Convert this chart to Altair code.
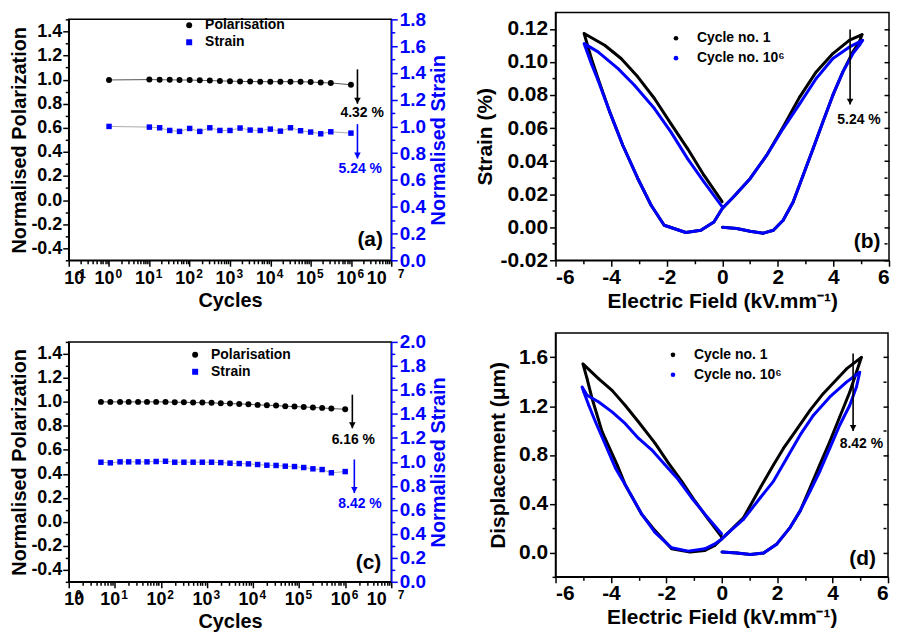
import altair as alt
import pandas as pd

FONT = "Liberation Sans"
BLUE = "#0000ff"
ARROW = "M-1.1,-2L1.1,-2L0,0Z"

# ---------------- data: panel (a) ----------------
a_cycles = [1, 10, 18, 32, 56, 100, 178, 316, 562, 1000, 1778, 3162, 5623, 10000,
            17783, 31623, 56234, 100000, 177828, 316228, 1000000]
a_polar = [0.997, 1.000, 0.999, 0.998, 0.997, 0.996, 0.994, 0.992, 0.989, 0.987, 0.985,
           0.984, 0.983, 0.983, 0.983, 0.983, 0.982, 0.980, 0.975, 0.972, 0.957]
a_strain = [1.000, 0.995, 0.990, 0.970, 0.963, 0.985, 0.963, 0.990, 0.970, 0.970, 0.988,
            0.973, 0.970, 0.980, 0.965, 0.990, 0.968, 0.958, 0.945, 0.960, 0.950]

# ---------------- data: panel (c) ----------------
c_cycles = [5, 8, 13, 20, 32, 50, 79, 126, 200, 316, 501, 794, 1259, 1995, 3162, 5012,
            7943, 12589, 19953, 31623, 50119, 79433, 125893, 199526, 316228, 501187, 1000000]
c_polar = [1.000, 1.000, 1.000, 1.000, 1.000, 1.000, 1.000, 1.000, 0.997, 0.997, 0.994,
           0.994, 0.992, 0.989, 0.986, 0.983, 0.981, 0.975, 0.972, 0.969, 0.964, 0.961,
           0.958, 0.953, 0.950, 0.944, 0.939]
c_strain = [0.997, 0.992, 1.000, 1.000, 1.000, 1.000, 1.003, 1.005, 0.997, 0.997, 0.997,
            0.997, 0.997, 0.994, 0.989, 0.986, 0.983, 0.978, 0.972, 0.970, 0.964, 0.961,
            0.953, 0.942, 0.936, 0.909, 0.919]

# ---------------- data: panel (b) strain loops ----------------
b_field_1 = [0.00, 0.52, 1.00, 1.48, 1.84, 2.19, 2.55, 2.91, 3.27, 3.62, 3.98, 4.34, 4.70, 4.93, 5.03,
             4.58, 3.98, 3.38, 2.79, 2.19, 1.60, 1.00, 0.41, 0.00,
             -0.30, -0.77, -1.31, -2.09, -2.56, -3.04, -3.58, -4.05, -4.47, -4.71, -4.97,
             -4.23, -3.64, -3.04, -2.44, -1.85, -1.25, -0.66, 0.00]
b_strain_1 = [0.0000, -0.0008, -0.0024, -0.0036, -0.0018, 0.0042, 0.0153, 0.0315, 0.0476, 0.0637, 0.0799, 0.0940, 0.1061, 0.1121, 0.1166,
              0.1132, 0.1051, 0.0940, 0.0789, 0.0607, 0.0436, 0.0294, 0.0184, 0.0113,
              0.0032, -0.0018, -0.0032, 0.0012, 0.0133, 0.0295, 0.0496, 0.0698, 0.0900, 0.1021, 0.1172,
              0.1101, 0.1021, 0.0910, 0.0779, 0.0627, 0.0476, 0.0315, 0.0153]
b_field_2 = [0.00, 0.52, 1.00, 1.48, 1.84, 2.19, 2.55, 2.91, 3.27, 3.62, 3.98, 4.34, 4.70, 4.93, 5.05,
             4.58, 3.98, 3.38, 2.79, 2.19, 1.60, 1.00, 0.41, 0.00,
             -0.30, -0.77, -1.31, -2.09, -2.56, -3.04, -3.58, -4.05, -4.47, -4.71, -4.97,
             -4.47, -3.75, -3.16, -2.44, -1.85, -1.25, -0.66, 0.00]
b_strain_2 = [0.0000, -0.0008, -0.0024, -0.0036, -0.0018, 0.0042, 0.0153, 0.0315, 0.0476, 0.0637, 0.0799, 0.0940, 0.1050, 0.1100, 0.1131,
              0.1091, 0.1021, 0.0900, 0.0748, 0.0597, 0.0436, 0.0294, 0.0184, 0.0113,
              0.0032, -0.0018, -0.0032, 0.0012, 0.0133, 0.0295, 0.0496, 0.0698, 0.0890, 0.0990, 0.1111,
              0.1061, 0.0960, 0.0859, 0.0718, 0.0577, 0.0415, 0.0274, 0.0123]

# ---------------- data: panel (d) displacement loops ----------------
d_field_1 = [0.00, 0.55, 1.03, 1.51, 1.99, 2.47, 2.83, 3.19, 3.54, 3.90, 4.26, 4.62, 4.86, 5.04,
             4.50, 3.66, 3.19, 2.65, 2.23, 1.87, 1.39, 0.79, 0.19, 0.00,
             -0.25, -0.61, -1.15, -1.81, -2.41, -2.89, -3.49, -3.78, -4.32, -4.68, -4.86, -5.01,
             -4.44, -3.96, -3.49, -3.01, -2.41, -1.93, -1.45, -0.97, -0.49, 0.00]
d_disp_1 = [0.003, -0.005, -0.016, -0.005, 0.070, 0.206, 0.341, 0.531, 0.720, 0.910, 1.113, 1.316, 1.478, 1.600,
            1.505, 1.302, 1.167, 0.991, 0.855, 0.720, 0.531, 0.287, 0.152, 0.111,
            0.057, 0.016, 0.003, 0.030, 0.179, 0.314, 0.558, 0.720, 0.991, 1.262, 1.424, 1.546,
            1.424, 1.329, 1.207, 1.072, 0.896, 0.734, 0.585, 0.422, 0.273, 0.125]
d_field_2 = [0.00, 0.55, 1.03, 1.51, 1.99, 2.47, 2.83, 3.19, 3.54, 3.90, 4.26, 4.62, 4.86, 4.98,
             4.50, 3.90, 3.31, 2.83, 2.35, 1.87, 1.39, 0.79, 0.19, 0.00,
             -0.25, -0.61, -1.21, -1.81, -2.41, -2.89, -3.49, -3.84, -4.20, -4.56, -4.80, -4.98, -5.04,
             -4.86, -4.44, -3.96, -3.49, -3.01, -2.53, -2.05, -1.57, -1.09, -0.61, 0.00]
d_disp_2 = [0.003, -0.005, -0.016, -0.005, 0.070, 0.206, 0.341, 0.504, 0.666, 0.855, 1.045, 1.207, 1.356, 1.478,
            1.397, 1.275, 1.126, 0.964, 0.774, 0.585, 0.449, 0.273, 0.152, 0.111,
            0.070, 0.030, 0.011, 0.038, 0.165, 0.314, 0.558, 0.693, 0.883, 1.072, 1.207, 1.316, 1.356,
            1.289, 1.234, 1.153, 1.058, 0.937, 0.842, 0.720, 0.598, 0.449, 0.314, 0.152]

series_ab = ["Polarisation", "Strain"]
cycle_names = ["Cycle no. 1", "Cycle no. 10\u2076"]

# annotations: (x, y_start, y_end, colour) and (x, y, text, colour, size)
a_arrows = [(1.45e6, 1.085, 0.80, "black"), (1.45e6, 0.63, 0.345, BLUE)]
a_texts = [(1.9e6, 0.72, "4.32 %", "black", 14), (1.7e6, 0.255, "5.24 %", BLUE, 14),
           (3.0e6, -0.335, "(a)", "black", 21)]
c_arrows = [(1.43e6, 1.06, 0.78, "black"), (1.58e6, 0.52, 0.24, BLUE)]
c_texts = [(1.5e6, 0.68, "6.16 %", "black", 14), (2.1e6, 0.147, "8.42 %", BLUE, 14),
           (3.2e6, -0.342, "(c)", "black", 21)]
b_arrows = [(4.6, 0.1196, 0.0742, "black")]
b_texts = [(4.92, 0.065, "5.24 %", "black", 14), (5.21, -0.009, "(b)", "black", 21)]
d_arrows = [(4.74, 1.632, 0.996, "black")]
d_texts = [(5.04, 0.888, "8.42 %", "black", 14), (5.08, -0.054, "(d)", "black", 21)]

LG = "log(datum.value)/LN10"
DECADE_TEST = f"abs({LG} - round({LG})) < 0.01"


def log_axis(decades, lab_size, title_size):
    lo, hi = decades
    vals = []
    for k in range(lo, hi + 1):
        vals.append(10.0 ** k)
        if k < hi:
            vals += [m * 10.0 ** k for m in range(2, 10)]
    return alt.Axis(
        title="Cycles", values=vals, grid=False, labelOverlap=False, labelBound=False,
        labelExpr=f"({DECADE_TEST}) ? '10' : ''", labelOffset=-5,
        tickSize={"condition": {"test": DECADE_TEST, "value": 6}, "value": 3.5},
        labelFontSize=lab_size, titleFontSize=title_size, labelPadding=3, titlePadding=3,
    )


def exponent_axis(decades):
    lo, hi = decades
    return alt.Axis(
        orient="bottom", title=None, values=[10.0 ** k for k in range(lo, hi + 1)],
        grid=False, domain=False, ticks=False, tickSize=0, labelOverlap=False, labelBound=False,
        labelExpr=f"replace(format(round({LG}), 'd'), '\u2212', '-')",
        labelFontSize=12, labelOffset=6, labelAlign="left", labelPadding=8,
    )


def lin_axis(title, vals, test, fmt, lab_size, title_size, color="black", orient=None,
             title_pad=4, label_pad=2, title_angle=None, title_baseline=None):
    kw = dict(
        title=title, values=vals, grid=False, labelOverlap=False, labelBound=False,
        labelExpr=f"({test}) ? replace(format(datum.value, '{fmt}'), '\u2212', '-') : ''",
        tickSize={"condition": {"test": test, "value": 6}, "value": 3.5},
        labelFontSize=lab_size, titleFontSize=title_size, labelPadding=label_pad,
        titlePadding=title_pad,
        labelColor=color, titleColor=color, tickColor=color, domainColor=color,
    )
    if orient:
        kw["orient"] = orient
    if title_angle is not None:
        kw["titleAngle"] = title_angle
    if title_baseline:
        kw["titleBaseline"] = title_baseline
    return alt.Axis(**kw)


def annotations(xname, yname, x_enc, y_enc, arrows, texts):
    layers = []
    for (xv, y0, y1, col) in arrows:
        d = pd.DataFrame({xname: [xv], yname: [y0], "yend": [y1]})
        layers.append(alt.Chart(d).mark_rule(color=col, strokeWidth=1.6).encode(
            x=x_enc, y=y_enc, y2="yend:Q"))
        d2 = pd.DataFrame({xname: [xv], yname: [y1]})
        layers.append(alt.Chart(d2).mark_point(shape=ARROW, size=36, filled=True, color=col,
                                               opacity=1).encode(x=x_enc, y=y_enc))
    for (xv, yv, txt, col, fs) in texts:
        d = pd.DataFrame({xname: [xv], yname: [yv], "t": [txt]})
        layers.append(alt.Chart(d).mark_text(font=FONT, fontWeight="bold", fontSize=fs,
                                             color=col).encode(x=x_enc, y=y_enc, text="t:N"))
    return layers


def cycling_panel(cycles, polar, strain, xdom, decades, strain_max, arrows, texts, leg_xy, w, h):
    dp = pd.DataFrame({"cycles": cycles, "pol": polar, "series": series_ab[0]})
    ds = pd.DataFrame({"cycles": cycles, "str": strain, "series": series_ab[1]})
    x_scale = alt.Scale(type="log", domain=xdom, nice=False)
    x_enc = alt.X("cycles:Q", scale=x_scale, axis=log_axis(decades, 18, 20))
    pol_vals = [round(-0.5 + 0.1 * i, 1) for i in range(21)]
    y_pol = alt.Y("pol:Q", scale=alt.Scale(domain=[-0.5, 1.5], nice=False, zero=False),
                  axis=lin_axis("Normalised Polarization", pol_vals,
                                "abs(round(datum.value*10)) % 2 == 0", ".1f", 18, 20,
                                title_pad=1, label_pad=1))
    n = int(round(strain_max * 10))
    str_vals = [round(0.1 * i, 1) for i in range(n + 1)]
    y_str = alt.Y("str:Q", scale=alt.Scale(domain=[0, strain_max], nice=False, zero=False),
                  axis=lin_axis("Normalised Strain", str_vals,
                                "abs(round(datum.value*10)) % 2 == 0", ".1f", 19, 20,
                                color=BLUE, orient="right", title_pad=3,
                                title_angle=270, title_baseline="top"))
    leg = alt.Legend(title=None, orient="none", legendX=leg_xy[0], legendY=leg_xy[1], symbolSize=36,
                     labelFontSize=14, labelOffset=9, rowPadding=3, symbolStrokeWidth=0)
    color = alt.Color("series:N", scale=alt.Scale(domain=series_ab, range=["black", BLUE]), legend=leg)
    shape = alt.Shape("series:N", scale=alt.Scale(domain=series_ab, range=["circle", "square"]), legend=leg)

    pol_line = alt.Chart(dp).mark_line(color="#555555", strokeWidth=1).encode(x=x_enc, y=y_pol)
    pol_pts = alt.Chart(dp).mark_point(filled=True, size=36, opacity=1).encode(
        x=x_enc, y=y_pol, color=color, shape=shape)
    str_line = alt.Chart(ds).mark_line(color="#aaaaaa", strokeWidth=1).encode(x=x_enc, y=y_str)
    str_pts = alt.Chart(ds).mark_point(filled=True, size=30, opacity=1).encode(
        x=x_enc, y=y_str, color=color, shape=shape)
    left = alt.layer(pol_line, pol_pts, *annotations("cycles", "pol", x_enc, y_pol, arrows, texts))
    right = alt.layer(str_line, str_pts)
    body = alt.layer(left, right).resolve_scale(y="independent")
    # exponents of the decade labels, drawn as a second bottom axis
    ed = pd.DataFrame({"cycles": [xdom[0]]})
    expo = alt.Chart(ed).mark_point(opacity=0, size=0, strokeWidth=0).encode(
        x=alt.X("cycles:Q", scale=x_scale, axis=exponent_axis(decades)), y=alt.value(0))
    return alt.layer(body, expo).resolve_axis(x="independent").properties(width=w, height=h)


def loop_panel(f1, v1, f2, v2, ydom, yvals, ytest, yfmt, ytitle, ytitle_pad, arrows, texts, leg_xy, w, h):
    d1 = pd.DataFrame({"field": f1, "val": v1, "cycle": cycle_names[0], "i": range(len(f1))})
    d2 = pd.DataFrame({"field": f2, "val": v2, "cycle": cycle_names[1], "i": range(len(f2))})
    x_enc = alt.X("field:Q", scale=alt.Scale(domain=[-6, 6], nice=False),
                  axis=lin_axis("Electric Field (kV.mm\u207b\u00b9)", list(range(-6, 7)),
                                "round(datum.value) % 2 == 0", "d", 21, 21,
                                title_pad=3, label_pad=0))
    y_enc = alt.Y("val:Q", scale=alt.Scale(domain=ydom, nice=False, zero=False),
                  axis=lin_axis(ytitle, yvals, ytest, yfmt, 21, 21, title_pad=ytitle_pad))
    leg = alt.Legend(title=None, orient="none", legendX=leg_xy[0], legendY=leg_xy[1],
                     symbolSize=22, labelFontSize=14, labelOffset=14, rowPadding=6,
                     symbolStrokeWidth=0)
    both = pd.concat([d1, d2])
    pts = alt.Chart(both).mark_circle(size=6, opacity=1).encode(
        x=x_enc, y=y_enc,
        color=alt.Color("cycle:N", scale=alt.Scale(domain=cycle_names, range=["black", BLUE]), legend=leg))
    l1 = alt.Chart(d1).mark_line(color="black", strokeWidth=3, strokeJoin="round").encode(
        x=x_enc, y=y_enc, order="i:Q")
    l2 = alt.Chart(d2).mark_line(color=BLUE, strokeWidth=3, strokeJoin="round").encode(
        x=x_enc, y=y_enc, order="i:Q")
    main = alt.layer(pts, l1, l2, *annotations("field", "val", x_enc, y_enc, arrows, texts))
    mirror_axis = alt.Axis(orient="right", values=yvals, labels=False, domain=False, title=None,
                           offset=-5, grid=False,
                           tickSize={"condition": {"test": ytest, "value": 5}, "value": 3})
    md = pd.DataFrame({"field": [0.0], "val": [ydom[0]]})
    mirror = alt.Chart(md).mark_point(opacity=0).encode(
        x=x_enc, y=alt.Y("val:Q", axis=mirror_axis))
    return alt.layer(main, mirror).resolve_axis(y="independent").properties(width=w, height=h)


pa = cycling_panel(a_cycles, a_polar, a_strain, [0.1, 1e7], (-1, 7), 1.8, a_arrows, a_texts,
                   (114, 6), 324, 242)
pc = cycling_panel(c_cycles, c_polar, c_strain, [1, 1e7], (0, 7), 2.0, c_arrows, c_texts,
                   (120, 6), 324, 241)

b_yvals = [round(-0.02 + 0.01 * i, 2) for i in range(15)]
pb = loop_panel(b_field_1, b_strain_1, b_field_2, b_strain_2, [-0.02, 0.13], b_yvals,
                "abs(round(datum.value*100)) % 2 == 0", ".2f", "Strain (%)", 4,
                b_arrows, b_texts, (114, 19), 335, 249)
d_yvals = [round(-0.2 + 0.2 * i, 1) for i in range(10)]
pd_ = loop_panel(d_field_1, d_disp_1, d_field_2, d_disp_2, [-0.2, 1.8], d_yvals,
                 "abs(round(datum.value*10)) % 4 == 0", ".1f", "Displacement (\u03bcm)", 10,
                 d_arrows, d_texts, (111, 15), 334, 245)

# invisible 1px cell that lets the left column start lower than the right one
spacer = alt.Chart(pd.DataFrame({"s": [0]})).mark_point(opacity=0, size=0, strokeWidth=0).encode(
    x=alt.X("s:Q", axis=None), y=alt.Y("s:Q", axis=None)
).properties(width=1, height=1, view=alt.ViewBackground(stroke="transparent", strokeWidth=0))

col_left = alt.vconcat(spacer, pa, spacing=-4)
col_left = alt.vconcat(col_left, pc, spacing=21).resolve_scale(color="independent", shape="independent")
col_right = alt.vconcat(pb, pd_, spacing=20).resolve_scale(color="independent", shape="independent")

chart = alt.hconcat(col_left, col_right, spacing=24).resolve_scale(
    color="independent", shape="independent"
).properties(
    padding={"left": 1, "top": 0, "right": 0, "bottom": 0}
).configure(font=FONT).configure_view(
    stroke="black", strokeWidth=1.5
).configure_axis(
    labelFont=FONT, titleFont=FONT, labelFontWeight="bold", titleFontWeight="bold",
    domainWidth=1.5, tickWidth=1.5, domainColor="black", tickColor="black",
    labelColor="black", titleColor="black",
).configure_legend(
    labelFont=FONT, labelFontWeight="bold", labelColor="black", padding=0,
)

chart.save("out.html", embed_options={"renderer": "svg", "actions": False})
